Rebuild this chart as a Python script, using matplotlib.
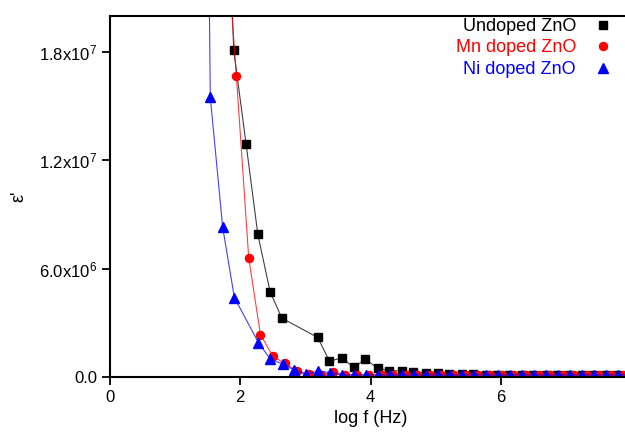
import numpy as np
import matplotlib
matplotlib.use('Agg')
import matplotlib.pyplot as plt
from matplotlib.ticker import FuncFormatter

plt.rcParams['font.family'] = ['Liberation Sans', 'DejaVu Sans']
plt.rcParams['mathtext.default'] = 'regular'

# data (log f, epsilon')
undoped_x = [1.72, 1.90, 2.09, 2.27, 2.46, 2.64, 3.19, 3.37, 3.56, 3.74, 3.92,
             4.11, 4.29, 4.48, 4.66, 4.85, 5.03, 5.21, 5.40, 5.58, 5.77, 5.95,
             6.13, 6.32, 6.50, 6.69, 6.87, 7.05, 7.24, 7.42, 7.61, 7.79, 7.97]
undoped_y = [3.5e7, 1.81e7, 1.29e7, 7.9e6, 4.7e6, 3.26e6, 2.19e6, 8.7e5, 1.07e6,
             5.3e5, 9.9e5, 4.8e5, 3.6e5, 3.3e5, 2.8e5, 2.4e5, 2.0e5, 1.7e5,
             1.5e5, 1.4e5, 1.3e5, 1.2e5, 1.2e5, 1.1e5, 1.1e5, 1.1e5, 1.0e5,
             1.0e5, 1.0e5, 1.0e5, 1.0e5, 1.0e5, 1.0e5]

mn_x = [1.755, 1.94, 2.13, 2.31, 2.50, 2.68, 2.87, 3.05, 3.24, 3.42, 3.61, 3.80,
        3.98, 4.17, 4.35, 4.54, 4.72, 4.91, 5.09, 5.28, 5.46, 5.65, 5.84, 6.02,
        6.21, 6.39, 6.58, 6.76, 6.95, 7.13, 7.32, 7.51, 7.69, 7.88]
mn_y = [2.6e7, 1.67e7, 6.6e6, 2.35e6, 1.16e6, 7.5e5, 3.5e5, 1.5e5, 1.2e5, 3.0e5,
        1.2e5] + [1.3e5] * 23

ni_x = [1.36, 1.54, 1.73, 1.91, 2.28, 2.46, 2.65, 2.83, 3.01, 3.20, 3.38, 3.56,
        3.75, 3.93, 4.12, 4.30, 4.48, 4.67, 4.85, 5.04, 5.22, 5.40, 5.59, 5.77,
        5.96, 6.14, 6.32, 6.51, 6.69, 6.88, 7.06, 7.24, 7.43, 7.61, 7.80, 7.98]
ni_y = [8.0e7, 1.55e7, 8.3e6, 4.4e6, 1.9e6, 1.0e6, 7.2e5, 3.8e5, 1.5e5, 3.4e5,
        2.4e5] + [1.1e5] * 25

labels = ['Undoped ZnO', 'Mn doped ZnO', 'Ni doped ZnO']
colors = ['black', 'red', 'blue']
markers = ['s', 'o', '^']
xticks = [0, 2, 4, 6]
yticks = [0, 6e6, 1.2e7, 1.8e7]

fig = plt.figure(figsize=(6.25, 4.32), dpi=100)
ax = fig.add_axes([0.176, 0.1273, 0.8336, 0.8356])

series = [(undoped_x, undoped_y), (mn_x, mn_y), (ni_x, ni_y)]
handles = []
for (x, y), c, m, lab in zip(series, colors, markers, labels):
    ax.plot(x, y, '-', color=c, lw=0.8, alpha=0.75)
    h, = ax.plot(x, y, linestyle='none', marker=m, color=c, ms=6.5 if m == '^' else 5.8,
                 label=lab)
    handles.append(h)

ax.set_xlim(0, 8)
ax.set_ylim(0, 2.0e7)
ax.set_xticks(xticks)
ax.set_yticks(yticks)


def fmt(v, pos):
    if v == 0:
        return '0.0'
    e = int(np.floor(np.log10(v)))
    return r'$%.1fx10^{%d}$' % (v / 10 ** e, e)


ax.yaxis.set_major_formatter(FuncFormatter(fmt))
ax.tick_params(direction='out', length=6, width=1.3, labelsize=12, pad=3)
for s in ['left', 'bottom', 'top']:
    ax.spines[s].set_linewidth(1.5)
ax.spines['right'].set_visible(False)

ax.set_xlabel('log f (Hz)', fontsize=13, labelpad=4)
ax.set_ylabel("ε'", fontsize=13, labelpad=9)

leg = ax.legend(handles=handles, loc='upper right', bbox_to_anchor=(0.995, 1.04),
                frameon=False, markerfirst=False, numpoints=1, fontsize=13,
                handlelength=1.0, handletextpad=1.0, labelspacing=0.25)
for t, c in zip(leg.get_texts(), colors):
    t.set_color(c)

fig.savefig('out.png', dpi=100)
